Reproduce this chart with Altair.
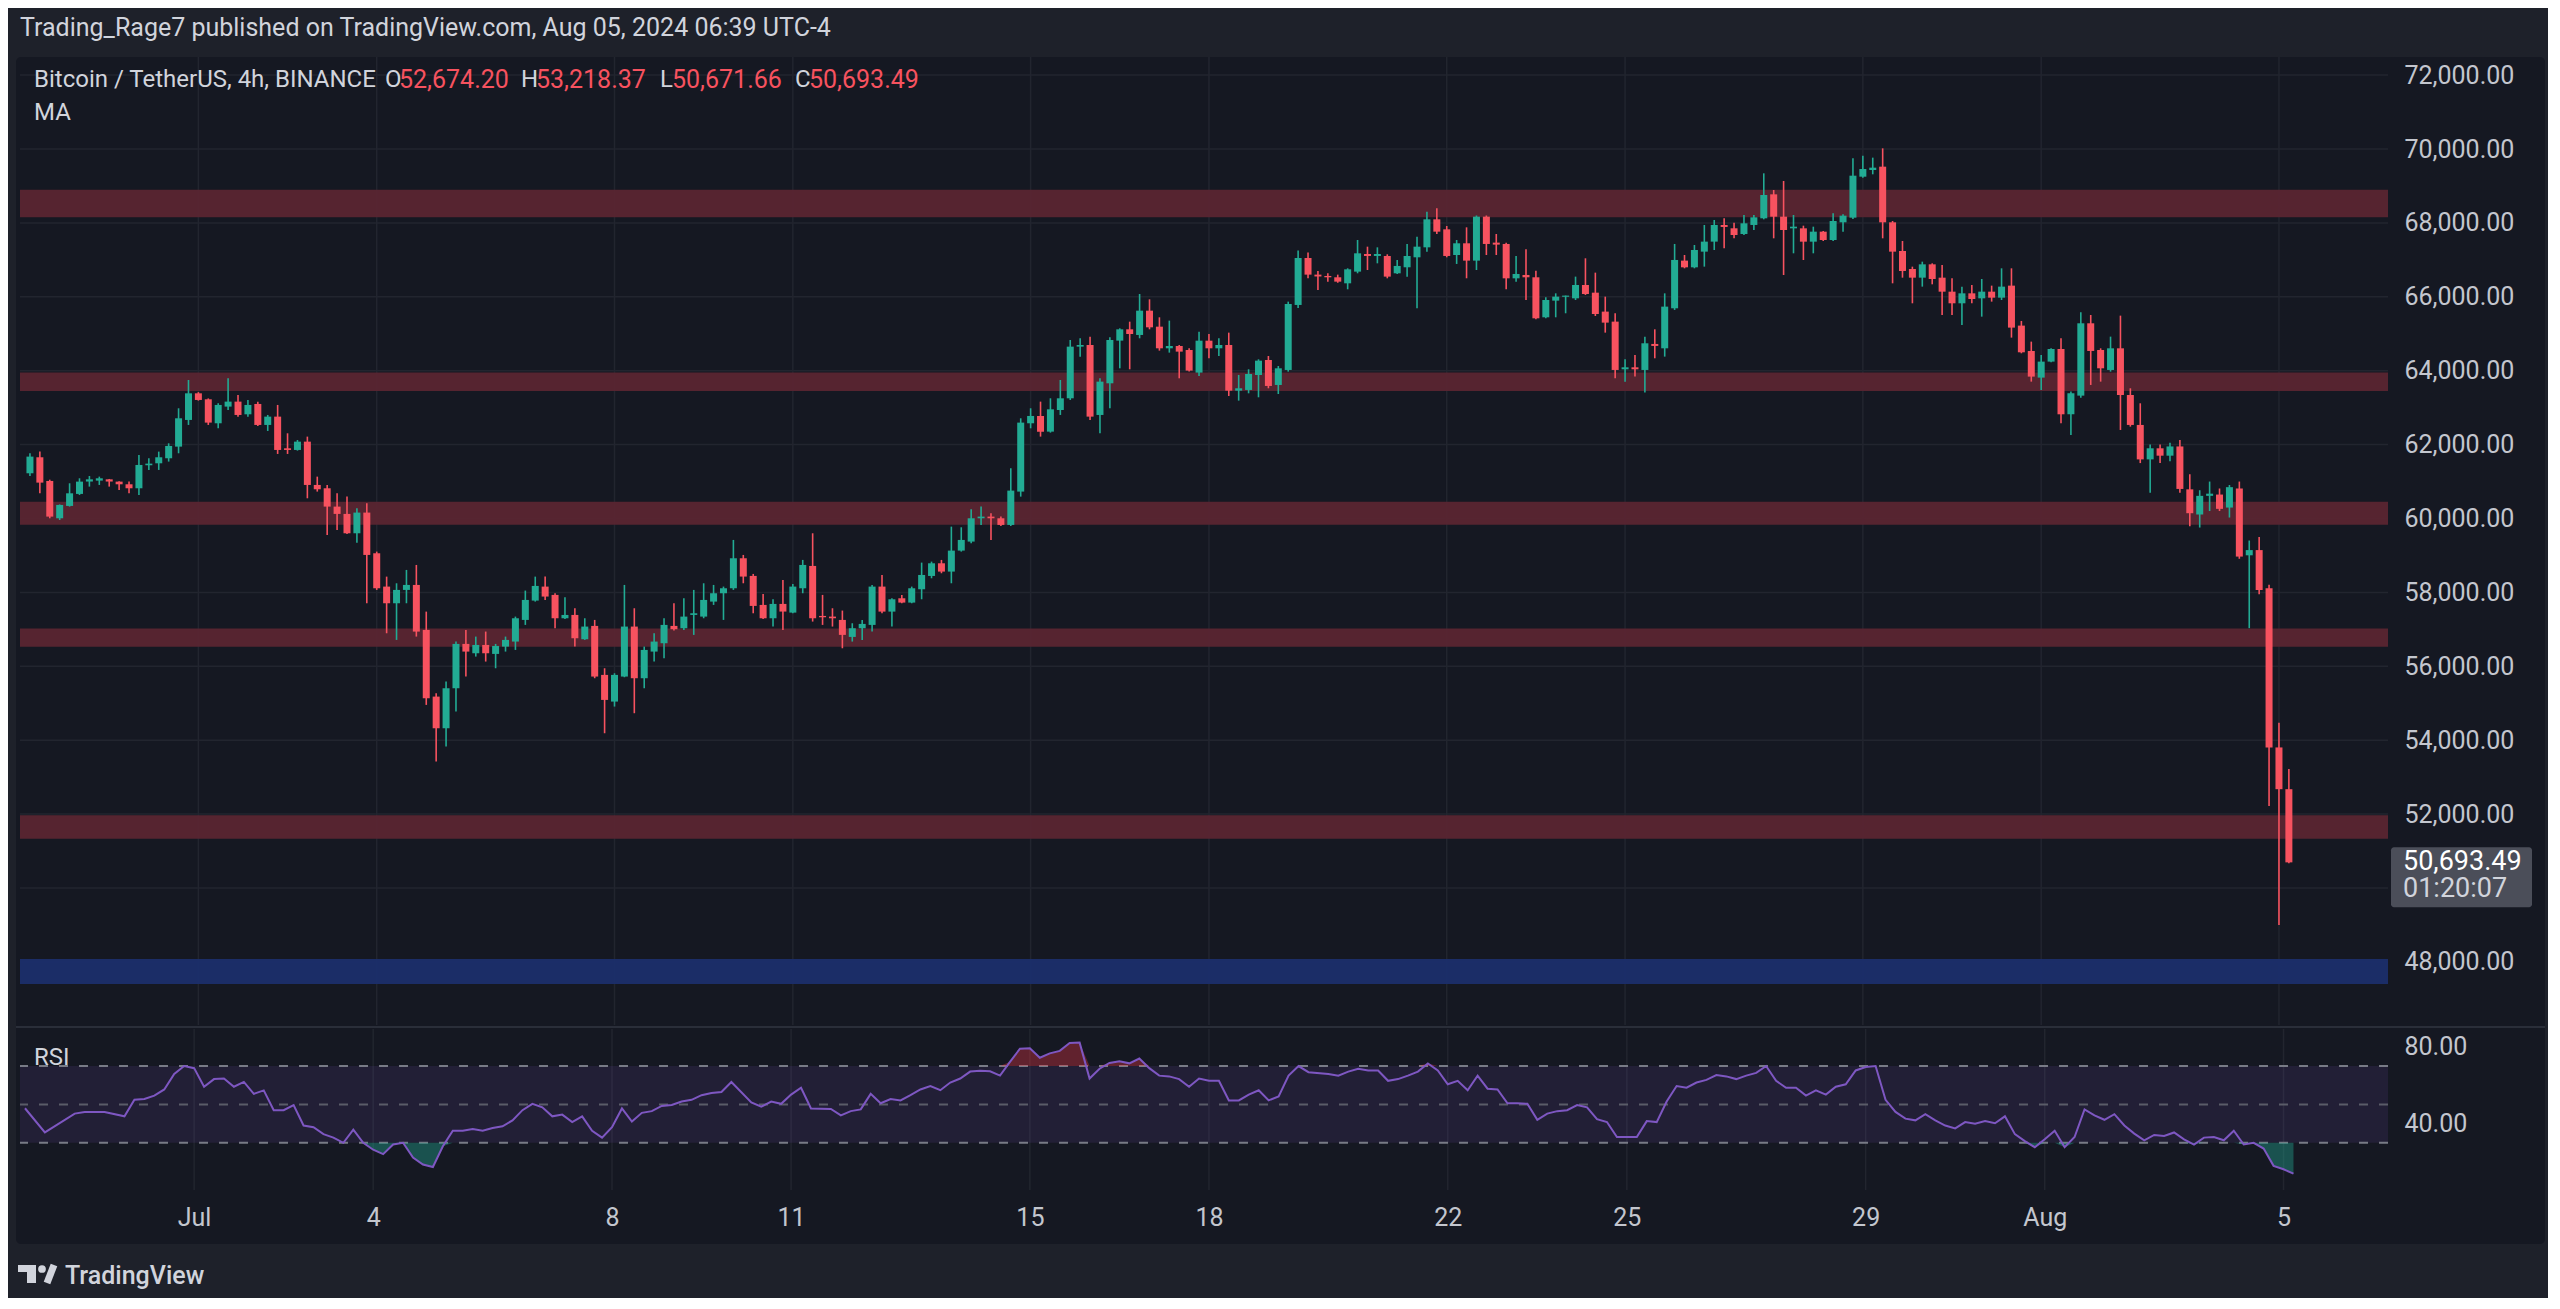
import altair as alt
import pandas as pd

# ---------------- data ----------------
start = "2024-06-28 04:00"          # first 4h candle (UTC-4)
opens = [61224,61657,61016,60006,60340,60665,61000,61025,61060,60998,
         60926,60818,61441,61494,61630,61945,62667,63388,63226,62577,
         63028,63163,62820,63100,62532,62757,61900,61855,62080,60908,
         60818,60322,60124,59600,60160,59059,58157,57706,58067,58202,
         56984,55180,54323,55406,56606,56353,56578,56335,56533,56669,
         57255,57778,58157,57932,57300,57390,56732,57093,55767,55045,
         55722,57075,55677,56398,56624,57093,57030,57390,57345,57751,
         57977,58112,58924,58446,57661,57300,57688,57453,58112,58716,
         57363,57345,57255,56795,57030,57120,58157,57480,57841,57724,
         58085,58445,58788,58563,59131,59375,60006,60051,60006,59826,
         60728,62577,62775,62351,62937,63253,64651,64696,62802,63659,
         64814,65120,64967,65625,65192,64606,64669,64561,63948,64813,
         64606,64696,63460,63479,63884,64290,63614,64020,65779,67050,
         66600,66564,66528,66365,66681,67159,67105,67105,66636,66799,
         67069,67339,68097,67826,67132,67448,66979,68169,67466,67430,
         66500,66591,66528,65445,65896,66000,65959,66320,66112,65599,
         65328,64038,64092,64020,64724,64606,65689,66979,66798,67222,
         67493,67944,67854,67700,67944,68124,68773,68169,67853,67853,
         67492,67763,67538,68016,68142,69251,69431,69522,68016,67240,
         66753,66518,66879,66518,66139,65824,66094,65959,66139,65977,
         66302,65220,64534,63813,64246,64588,62820,63325,65283,64561,
         64020,64606,63343,62532,61600,61900,61700,61950,60789,60108,
         60613,60648,60296,60812,59004,59145,58112,53804,52674.20]
highs = [61765,61810,61050,60380,60953,61088,61150,61133,61070,61010,
         60998,61720,61630,61810,62035,62983,63749,63420,63250,63118,
         63794,63343,63208,63163,62802,63073,62306,62125,62216,61133,
         60908,60683,60592,60277,60412,59104,58427,58247,58608,58743,
         57480,55270,55586,56668,56985,56804,56940,56606,56804,57345,
         58049,58427,58427,57977,57869,57571,57300,57255,55947,55812,
         58202,57571,56533,56894,57300,57706,57841,58067,58247,58202,
         58157,59420,59014,58500,57959,57814,58337,58229,58879,59600,
         57932,57571,57508,57165,57255,58202,58472,57841,57931,58157,
         58806,58833,58879,59780,59762,60249,60322,60141,60051,61359,
         62712,62983,63163,63253,63749,64831,64876,64921,63794,64904,
         65147,65327,66076,65932,65445,65355,64696,64606,65057,64994,
         64876,65030,63885,64038,64308,64398,64128,65869,67250,67200,
         66700,66636,66600,66771,67538,67357,67339,67150,66997,67430,
         67628,68305,68395,67916,67538,67880,68200,68200,67700,67466,
         67105,67285,66708,65986,66094,66032,66546,67042,66654,66004,
         65553,64308,64426,64922,65120,66094,67430,67132,67402,67944,
         68079,68124,68007,68214,68214,69342,68891,69134,68214,67925,
         67898,67781,68259,68232,69747,69820,69766,70018,68052,67511,
         66816,66951,66906,66861,66500,66275,66320,66482,66302,66771,
         66771,65346,64787,64426,64606,64877,63434,65580,65508,64606,
         64922,65490,63524,63118,62000,62000,62050,62126,61200,60765,
         61000,60812,60906,61000,59404,59498,58206,54472,53218.37]
lows = [61152,60683,60006,59960,60322,60637,60863,60908,60863,60773,
        60683,60637,61314,61314,61540,61765,62532,63190,62532,62441,
        62937,62757,62757,62505,62369,61747,61747,61837,60547,60728,
        59555,59690,59582,59347,57706,58067,56894,56714,57706,56804,
        54955,53421,53827,54774,55722,56263,56128,55947,56398,56443,
        57120,57751,57796,57030,57280,56533,56714,55677,54188,54910,
        55704,54730,55406,56128,56218,56967,56985,56849,57300,57661,
        57255,58067,58247,57435,57280,57075,56985,57436,57977,57210,
        57120,57075,56488,56669,56714,56939,57435,57075,57706,57706,
        57814,58382,58518,58247,59104,59329,59825,59420,59798,59798,
        60592,62441,62216,62324,62802,63208,64380,62667,62306,62983,
        64065,64038,64877,65120,64543,64489,63794,63975,63857,64335,
        64398,63316,63190,63388,63280,63524,63370,63975,65700,66500,
        66185,66410,66380,66203,66636,66726,66906,66500,66618,66546,
        65689,67222,67700,67069,66889,66501,66726,67132,67132,66203,
        66410,65914,65391,65418,65445,65554,65914,66050,65481,65030,
        63794,63704,63840,63407,64336,64381,65644,66771,66771,66816,
        67267,67312,67583,67673,67808,68097,67583,66590,67177,66996,
        67177,67510,67510,67763,68106,69224,69315,67583,66365,66518,
        65824,66275,66338,65508,65508,65238,65824,65463,65869,65914,
        64895,64471,63704,63479,64228,62577,62261,63271,63614,63704,
        63975,62396,62486,61500,60700,61500,61550,60700,59790,59755,
        60202,60202,60026,58910,57032,57947,52218,49000,50671.66]
closes = [61675,60971,60051,60367,60682,60998,61060,61088,61000,60926,
          60818,61449,61485,61657,61963,62712,63388,63208,62595,63073,
          63163,62802,63073,62532,62757,61855,61855,62080,60908,60791,
          60322,60124,59600,60160,59014,58112,57706,58067,58202,56939,
          55135,54323,55406,56606,56398,56578,56353,56551,56714,57300,
          57796,58175,57887,57300,57390,56759,57075,55722,55090,55767,
          57075,55677,56443,56669,57120,57003,57345,57435,57796,57977,
          58112,58924,58428,57634,57300,57688,57481,58157,58743,57300,
          57327,57300,56850,57030,57147,58157,57480,57814,57724,58112,
          58472,58788,58563,59131,59420,60006,60051,60006,59826,60755,
          62595,62775,62351,62955,63253,64651,64696,62757,63704,64831,
          65120,64994,65625,65174,64606,64669,64516,64002,64813,64606,
          64696,63460,63524,63911,64272,63587,64065,65806,67050,66600,
          66550,66528,66410,66744,67177,67105,67159,66546,66835,67105,
          67357,68097,67763,67105,67448,66979,68169,67430,67412,66500,
          66618,66528,65418,65914,66004,66032,66320,66076,65535,65301,
          64020,64092,64038,64742,64670,65734,66997,66798,67267,67493,
          67944,67890,67673,67989,68151,68756,68169,67808,67898,67492,
          67763,67538,68052,68196,69278,69459,69495,68016,67222,66699,
          66518,66879,66482,66139,65824,66094,65941,66139,65977,66275,
          65166,64498,63840,64246,64588,62820,63389,65283,64534,64065,
          64606,63343,62532,61600,61900,61700,61950,60800,60143,60613,
          60672,60261,60848,58969,59145,58065,53804,52674.20,50693.49]

# RSI(14) values read at the line's vertices (candle number -> RSI)
rsi_idx = [1,3,6,7,9,11,12,13,14,15,
           16,17,18,19,20,21,22,23,24,25,
           26,27,28,29,30,31,32,33,34,35,
           36,37,38,39,40,41,42,43,44,45,
           46,47,48,49,50,51,52,53,54,55,
           56,57,58,59,60,61,62,63,64,65,
           66,67,68,69,70,71,72,74,75,76,77,78,79,80,
           82,83,84,85,86,87,88,89,90,91,
           92,93,94,95,96,97,98,99,100,101,
           102,103,104,105,106,107,108,109,110,111,
           112,113,114,115,116,117,118,119,120,121,
           122,123,124,125,126,127,128,129,130,
           132,133,134,135,136,137,138,139,140,141,
           142,143,144,145,146,147,148,149,150,151,
           152,153,154,155,156,157,158,159,160,161,
           163,164,165,166,167,168,169,170,171,172,
           173,174,175,176,177,178,179,180,181,182,
           183,184,185,186,187,188,189,190,191,192,
           193,194,195,196,197,198,199,200,201,202,
           203,204,205,206,207,208,209,210,211,212,
           213,214,215,216,217,218,219,220,221,222,
           223,224,225,226,227,228,229]
rsi_val = [48.0,35.4,45.2,46.1,46.1,43.8,52.4,52.8,54.6,57.8,
           65.9,70.0,68.9,59.2,63.2,63.5,59.2,61.7,55.5,57.3,
           47.0,47.0,49.7,39.0,38.1,34.5,32.7,30.0,36.8,30.0,
           26.4,24.1,29.1,30.0,22.3,18.7,17.4,28.2,36.3,36.3,
           37.2,36.3,37.7,38.6,41.7,47.0,50.3,48.5,43.8,44.7,
           40.8,43.8,36.3,32.7,38.1,47.9,41.1,45.6,46.5,49.2,
           49.7,51.5,52.4,54.8,56.0,56.5,61.7,51.0,48.8,51.5,50.3,55.1,58.7,47.9,
           47.6,44.3,46.5,47.4,55.5,50.6,52.8,52.1,54.8,57.8,
           59.6,57.4,61.4,63.5,67.1,67.5,67.3,65.0,72.2,79.0,
           79.3,74.3,76.6,77.9,82.0,82.2,63.5,68.6,71.6,72.5,
           71.4,73.9,68.9,65.0,64.6,63.2,59.2,63.5,62.3,62.3,
           52.1,52.1,55.1,57.4,52.1,54.2,65.0,70.0,66.8,
           65.9,65.0,67.1,68.6,67.7,67.7,62.3,63.2,65.0,67.1,
           71.3,67.7,60.5,62.3,57.4,65.0,58.2,57.8,50.6,50.6,
           50.3,42.0,45.2,46.5,47.0,49.7,48.5,42.3,40.8,33.0,
           33.0,41.3,40.8,51.5,59.6,58.7,61.4,62.8,65.3,64.6,
           63.2,65.0,66.4,70.0,62.3,58.7,58.7,54.6,57.3,55.1,
           59.2,60.5,67.7,69.5,70.0,52.4,46.1,42.6,41.7,44.9,
           41.7,39.0,37.5,40.8,39.9,41.3,40.2,43.8,34.5,30.9,
           27.7,31.8,36.3,27.7,33.0,47.4,44.3,42.0,44.9,39.0,
           34.8,31.3,34.1,33.6,35.4,31.8,29.1,32.7,33.0,31.3,
           36.3,29.1,30.0,27.0,18.0,16.2,13.9]

# horizontal zones drawn on the chart
band_lo = [68150, 63450, 59830, 56530, 51330, 47400]
band_hi = [68900, 63950, 60450, 57020, 51970, 48080]
band_kind = ["resistance", "resistance", "resistance", "resistance", "resistance", "support"]

tick_dates = ["2024-07-01", "2024-07-04", "2024-07-08", "2024-07-11", "2024-07-15", "2024-07-18",
              "2024-07-22", "2024-07-25", "2024-07-29", "2024-08-01", "2024-08-05"]
tick_labels = ["Jul", "4", "8", "11", "15", "18", "22", "25", "29", "Aug", "5"]
price_labels = [48000, 52000, 54000, 56000, 58000, 60000, 62000, 64000, 66000, 68000, 70000, 72000]
price_grid = [48000, 50000, 52000, 54000, 56000, 58000, 60000, 62000, 64000, 66000, 68000, 70000, 72000]
rsi_levels = [70, 50, 30]
rsi_level_kind = ["outer", "mid", "outer"]
rsi_zone_lo = [30]
rsi_zone_hi = [70]
rsi_labels = [40, 80]

symbol = "Bitcoin / TetherUS, 4h, BINANCE"
publish_line = "Trading_Rage7 published on TradingView.com, Aug 05, 2024 06:39 UTC-4"
countdown = "01:20:07"

# ---------------- styling ----------------
OUTER = "#1e212a"
INNER = "#151822"
GRID = "#22252f"
UP = "#22ab94"
DOWN = "#f7525f"
TXT = "#d1d4dc"
AX = "#c3c6ce"
FONT = "Roboto"
AXFS = 25
W, H_PRICE, H_RSI = 2368, 968, 161

# ---------------- frames ----------------
t0 = pd.Timestamp(start)
n = len(opens)
candles = pd.DataFrame({
    "idx": list(range(1, n + 1)),
    "time": [str(t0 + pd.Timedelta(hours=4 * i)) for i in range(n)],
    "open": opens, "high": highs, "low": lows, "close": closes,
})
tick_idx = [int(round(1 + (pd.Timestamp(d) - t0) / pd.Timedelta(hours=4))) for d in tick_dates]
ticks_df = pd.DataFrame({"tidx": tick_idx, "label": tick_labels})
bands = pd.DataFrame({"lo": band_lo, "hi": band_hi, "kind": band_kind})
grid_df = pd.DataFrame({"p": price_grid})
rsi_df = pd.DataFrame({"idx": rsi_idx, "rsi": rsi_val})
lvl_df = pd.DataFrame({"lvl": rsi_levels, "kind": rsi_level_kind})
zone_df = pd.DataFrame({"lo": rsi_zone_lo, "hi": rsi_zone_hi})
one = pd.DataFrame({"k": [0]})
last = pd.DataFrame({"close": [closes[-1]], "lbl": [f"{closes[-1]:,.2f}"], "cd": [countdown]})

xs = alt.Scale(domain=[0.5, 238.5], nice=False, zero=False)
ys = alt.Scale(domain=[46292, 72490], nice=False, zero=False)
rs = alt.Scale(domain=[5.4, 89.3], nice=False, zero=False)

label_expr = ""
for v, lab in zip(tick_idx, tick_labels):
    label_expr += f"datum.value == {v} ? '{lab}' : "
label_expr += "''"

# shared axis definitions (identical in every layer so they merge)
ax_price = alt.Axis(orient="right", values=price_labels, format=",.2f", title=None, grid=False,
                    ticks=False, domain=False, labelPadding=16, labelColor=AX, labelFontSize=AXFS,
                    labelFont=FONT, zindex=1)
ax_time = alt.Axis(values=tick_idx, labelExpr=label_expr, title=None, grid=False, ticks=False,
                   domain=False, labelPadding=15, labelColor=AX, labelFontSize=AXFS, labelFont=FONT)
ax_rsi = alt.Axis(orient="right", values=rsi_labels, format=".2f", title=None, grid=False,
                  ticks=False, domain=False, labelPadding=16, labelColor=AX, labelFontSize=AXFS,
                  labelFont=FONT)

# ---------------- price pane ----------------
canvas = alt.Chart(one).mark_rect(color=OUTER).encode(
    x=alt.value(-12), x2=alt.value(2528), y=alt.value(-49), y2=alt.value(1241))
frame = alt.Chart(one).mark_rect(color=INNER, cornerRadius=5).encode(
    x=alt.value(-4), x2=alt.value(2525), y=alt.value(0), y2=alt.value(1187))
hgrid = alt.Chart(grid_df).mark_rule(color=GRID, strokeWidth=1.5).encode(
    y=alt.Y("p:Q", scale=ys, axis=ax_price))
vgrid = alt.Chart(ticks_df).mark_rule(color=GRID, strokeWidth=1.5).encode(
    x=alt.X("tidx:Q", scale=xs, axis=None))
zones = alt.Chart(bands).mark_rect(opacity=0.95).encode(
    y=alt.Y("lo:Q", scale=ys, axis=ax_price), y2="hi:Q",
    color=alt.Color("kind:N", scale=alt.Scale(domain=["resistance", "support"],
                                               range=["#5a2531", "#1b2e6b"]), legend=None))
sep = alt.Chart(one).mark_rule(color="#2a2e39", strokeWidth=2).encode(
    x=alt.value(-4), x2=alt.value(2525), y=alt.value(970))
cond = alt.condition("datum.close >= datum.open", alt.value(UP), alt.value(DOWN))
wicks = alt.Chart(candles).mark_rule(strokeWidth=1.6).encode(
    x=alt.X("idx:Q", scale=xs, axis=None),
    y=alt.Y("low:Q", scale=ys, axis=ax_price), y2="high:Q", color=cond)
bodies = alt.Chart(candles).mark_bar(size=7).encode(
    x=alt.X("idx:Q", scale=xs, axis=None),
    y=alt.Y("open:Q", scale=ys, axis=ax_price), y2="close:Q", color=cond)
pbox = alt.Chart(last).mark_rect(color="#4b4e59", cornerRadius=3, yOffset=-15, y2Offset=45).encode(
    x=alt.value(2371), x2=alt.value(2512), y=alt.Y("close:Q", scale=ys, axis=ax_price), y2="close:Q")
ptxt = alt.Chart(last).mark_text(align="left", baseline="middle", fontSize=27, font=FONT,
                                 color="#ffffff").encode(
    x=alt.value(2383), y=alt.Y("close:Q", scale=ys, axis=ax_price), text="lbl:N")
ctxt = alt.Chart(last).mark_text(align="left", baseline="middle", fontSize=27, font=FONT,
                                 color="#d1d4dc", yOffset=27).encode(
    x=alt.value(2383), y=alt.Y("close:Q", scale=ys, axis=ax_price), text="cd:N")


def label(text, x, y, color=TXT, size=24, weight="normal"):
    return alt.Chart(one).mark_text(text=text, align="left", baseline="middle", fontSize=size,
                                    font=FONT, color=color, fontWeight=weight).encode(
        x=alt.value(x), y=alt.value(y))


header = label(publish_line, 0, -29, size=25)
legend_parts = [label(symbol, 14, 23),
                label("O", 365, 23), label(f"{opens[-1]:,.2f}", 379, 23, DOWN, 25),
                label("H", 501, 23), label(f"{highs[-1]:,.2f}", 516, 23, DOWN, 25),
                label("L", 640, 23), label(f"{lows[-1]:,.2f}", 652, 23, DOWN, 25),
                label("C", 775, 23), label(f"{closes[-1]:,.2f}", 789, 23, DOWN, 25),
                label("MA", 14, 56)]

price = alt.layer(canvas, frame, hgrid, vgrid, zones, sep, wicks, bodies, pbox, ptxt, ctxt,
                  header, *legend_parts).properties(width=W, height=H_PRICE)

# ---------------- RSI pane ----------------
r_vgrid = alt.Chart(ticks_df).mark_rule(color=GRID, strokeWidth=1.5).encode(
    x=alt.X("tidx:Q", scale=xs, axis=ax_time))
r_band = alt.Chart(zone_df).mark_rect(color="#7e57c2", opacity=0.13).encode(
    y=alt.Y("lo:Q", scale=rs, axis=ax_rsi), y2="hi:Q")
r_lvls = alt.Chart(lvl_df).mark_rule(strokeDash=[9, 11], strokeWidth=2).encode(
    y=alt.Y("lvl:Q", scale=rs, axis=ax_rsi),
    color=alt.Color("kind:N", scale=alt.Scale(domain=["outer", "mid"], range=["#787b86", "#5a5c68"]),
                    legend=None))
r_ob = alt.Chart(rsi_df).transform_calculate(ob="max(datum.rsi, 70)", base70="70").mark_area(
    color="#f23645", opacity=0.35).encode(
    x=alt.X("idx:Q", scale=xs, axis=ax_time), y=alt.Y("ob:Q", scale=rs, axis=ax_rsi), y2="base70:Q")
r_os = alt.Chart(rsi_df).transform_calculate(os="min(datum.rsi, 30)", base30="30").mark_area(
    color="#22ab94", opacity=0.4).encode(
    x=alt.X("idx:Q", scale=xs, axis=ax_time), y=alt.Y("os:Q", scale=rs, axis=ax_rsi), y2="base30:Q")
r_line = alt.Chart(rsi_df).mark_line(color="#7e57c2", strokeWidth=2).encode(
    x=alt.X("idx:Q", scale=xs, axis=ax_time),
    y=alt.Y("rsi:Q", scale=rs, axis=ax_rsi))
r_title = label("RSI", 14, 29, size=24)

# footer brand
logo_bar = alt.Chart(one).mark_rect(color=TXT).encode(
    x=alt.value(-2), x2=alt.value(16), y=alt.value(236), y2=alt.value(243))
logo_stem = alt.Chart(one).mark_rect(color=TXT).encode(
    x=alt.value(7), x2=alt.value(16), y=alt.value(236), y2=alt.value(254))
logo_dot = alt.Chart(one).mark_point(filled=True, color=TXT, size=60, opacity=1).encode(
    x=alt.value(22), y=alt.value(240))
logo_slash = alt.Chart(one).mark_rule(color=TXT, strokeWidth=7).encode(
    x=alt.value(34), x2=alt.value(27), y=alt.value(236), y2=alt.value(254))
brand = label("TradingView", 45, 247, size=25, weight=500)

rsi = alt.layer(r_vgrid, r_band, r_lvls, r_ob, r_os, r_line, r_title,
                logo_bar, logo_stem, logo_dot, logo_slash, brand).properties(width=W, height=H_RSI)

chart = alt.vconcat(price, rsi, spacing=4, bounds="flush").resolve_scale(
    x="independent", y="independent", color="independent"
).configure(background=OUTER, padding=0).configure_view(strokeWidth=0)

chart.save("out.html", embed_options={"renderer": "svg", "actions": False})
